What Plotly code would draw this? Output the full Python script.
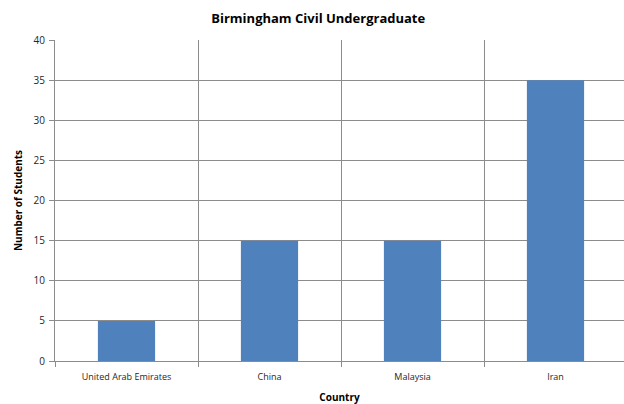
import plotly.graph_objects as go

countries = ["United Arab Emirates", "China", "Malaysia", "Iran"]
students = [5, 15, 15, 35]
y_ticks = [0, 5, 10, 15, 20, 25, 30, 35, 40]

font_family = "Open Sans, Liberation Sans, Arial, sans-serif"

fig = go.Figure()
fig.add_trace(go.Bar(
    x=countries, y=students,
    marker=dict(color="#4F81BD", line=dict(width=0)),
    width=0.4,
))

fig.update_layout(
    width=624, height=404,
    margin=dict(l=55, r=0, t=40, b=43),
    paper_bgcolor="white", plot_bgcolor="white",
    showlegend=False,
    title=dict(text="<b>Birmingham Civil Undergraduate</b>", x=0.51, xanchor="center",
               y=0.955, yanchor="middle",
               font=dict(family=font_family, size=13, color="#000000")),
    font=dict(family=font_family, color="#262626"),
    xaxis=dict(
        type="category",
        range=[-0.5, 3.479],
        tickson="boundaries",
        automargin=False,
        showgrid=True, gridcolor="#8C8C8C", gridwidth=1,
        ticks="outside", ticklen=5, tickcolor="#8C8C8C",
        ticklabelstandoff=7,
        showline=True, linecolor="#8C8C8C", linewidth=1,
        tickfont=dict(size=9, color="#262626"),
        title=dict(text="<b>Country</b>", font=dict(size=10, color="#000000"), standoff=12),
        zeroline=False,
    ),
    yaxis=dict(
        range=[0, 40],
        tickvals=y_ticks,
        automargin=False,
        showgrid=True, gridcolor="#8C8C8C", gridwidth=1,
        ticks="outside", ticklen=5, tickcolor="#8C8C8C",
        ticklabelstandoff=2,
        showline=True, linecolor="#8C8C8C", linewidth=1,
        tickfont=dict(size=10, color="#262626"),
        title=dict(text="<b>Number of Students</b>", font=dict(size=10, color="#000000"), standoff=9),
        zeroline=False,
    ),
)

fig.write_html("out.html", config={"displayModeBar": False},
               post_script="document.body.style.margin='0';")
